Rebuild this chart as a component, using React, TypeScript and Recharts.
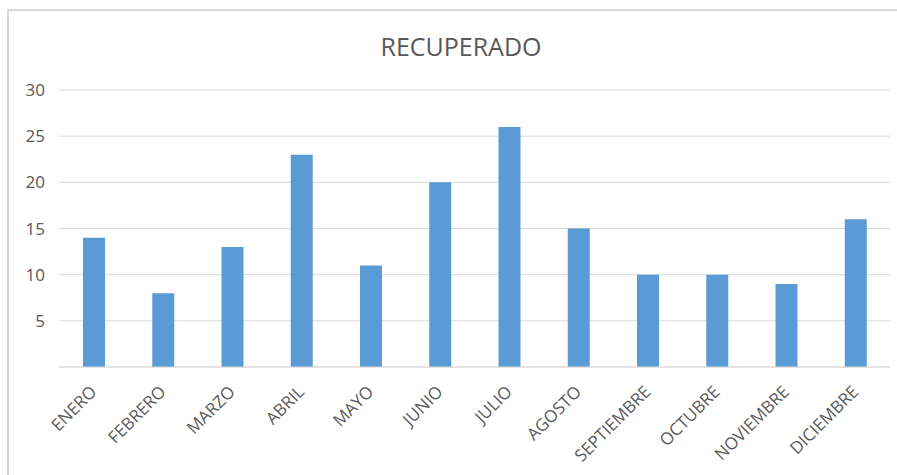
import React from "react";
import { BarChart, Bar, XAxis, YAxis, CartesianGrid } from "recharts";

const months = ["ENERO", "FEBRERO", "MARZO", "ABRIL", "MAYO", "JUNIO", "JULIO", "AGOSTO", "SEPTIEMBRE", "OCTUBRE", "NOVIEMBRE", "DICIEMBRE"];
const recuperado = [14, 8, 13, 23, 11, 20, 26, 15, 10, 10, 9, 16];
const yTicks = [5, 10, 15, 20, 25, 30];

const data = months.map((m, i) => ({ month: m, value: recuperado[i] }));

const FONT = "'Open Sans', 'Noto Sans', sans-serif";

const XTick = (props: any) => {
  const { x, y, payload } = props;
  const px = x + 4;
  const py = y + 18;
  return (
    <text
      x={px}
      y={py}
      transform={`rotate(-45, ${px}, ${py})`}
      textAnchor="end"
      fill="#595959"
      fontSize={17}
      fontFamily={FONT}
    >
      {payload.value}
    </text>
  );
};

export default function App() {
  return (
    <div
      style={{
        position: "absolute",
        left: 7,
        top: 9,
        width: 900,
        height: 480,
        border: "2px solid #d9d9d9",
        background: "#fff",
        boxSizing: "border-box",
      }}
    >
      <div
        style={{
          position: "absolute",
          left: 0,
          top: 18,
          width: 904,
          textAlign: "center",
          fontFamily: FONT,
          fontSize: 25,
          color: "#595959",
        }}
      >
        RECUPERADO
      </div>
      <BarChart
        width={888}
        height={464}
        data={data}
        margin={{ top: 79, right: 7, left: 10, bottom: 8 }}
        barCategoryGap={0}
      >
        <CartesianGrid vertical={false} stroke="#d9d9d9" />
        <XAxis
          dataKey="month"
          interval={0}
          height={100}
          axisLine={{ stroke: "#d9d9d9" }}
          tickLine={false}
          tick={<XTick />}
        />
        <YAxis
          width={40}
          domain={[0, 30]}
          ticks={yTicks}
          axisLine={false}
          tickLine={false}
          tick={{ fill: "#595959", fontSize: 17, fontFamily: FONT, dx: -6 }}
        />
        <Bar dataKey="value" fill="#5B9BD5" barSize={22} isAnimationActive={false} />
      </BarChart>
    </div>
  );
}
